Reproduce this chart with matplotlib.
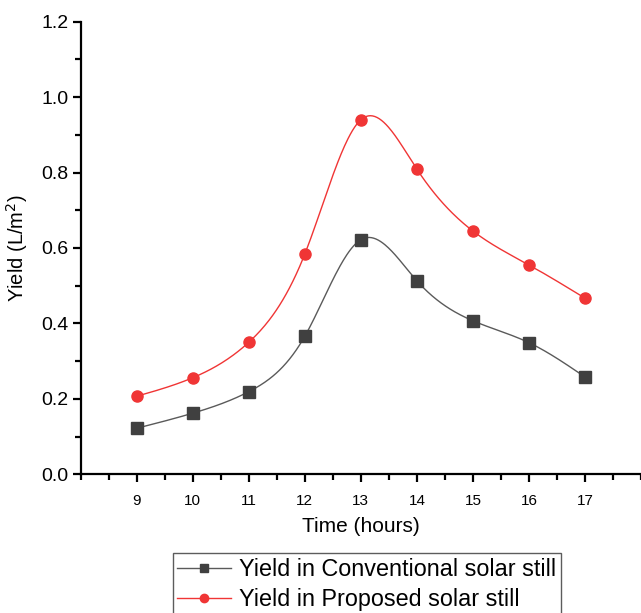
import matplotlib.pyplot as plt
import numpy as np
from matplotlib.ticker import MultipleLocator, FormatStrFormatter

plt.rcParams.update({"font.family": ["Liberation Sans", "DejaVu Sans"]})

# data
hours = [9, 10, 11, 12, 13, 14, 15, 16, 17]
conventional = [0.122, 0.162, 0.219, 0.366, 0.622, 0.513, 0.407, 0.349, 0.258]
proposed = [0.207, 0.256, 0.350, 0.584, 0.940, 0.809, 0.645, 0.555, 0.467]

GRAY_LINE = "#5a5a5a"
GRAY_MARK = "#404040"
RED = "#f03535"


def natural_spline(x, y, n=400):
    # natural cubic spline through the data points (Origin "Spline" connection)
    x = np.asarray(x, float)
    y = np.asarray(y, float)
    k = len(x)
    h = np.diff(x)
    A = np.zeros((k, k))
    r = np.zeros(k)
    A[0, 0] = A[-1, -1] = 1.0
    for i in range(1, k - 1):
        A[i, i - 1] = h[i - 1]
        A[i, i] = 2 * (h[i - 1] + h[i])
        A[i, i + 1] = h[i]
        r[i] = 6 * ((y[i + 1] - y[i]) / h[i] - (y[i] - y[i - 1]) / h[i - 1])
    m = np.linalg.solve(A, r)
    xs = np.linspace(x[0], x[-1], n)
    idx = np.clip(np.searchsorted(x, xs) - 1, 0, k - 2)
    x0, x1 = x[idx], x[idx + 1]
    hh = x1 - x0
    t0, t1 = x1 - xs, xs - x0
    ys = (m[idx] * t0**3 / (6 * hh) + m[idx + 1] * t1**3 / (6 * hh)
          + (y[idx] / hh - m[idx] * hh / 6) * t0
          + (y[idx + 1] / hh - m[idx + 1] * hh / 6) * t1)
    return xs, ys


fig = plt.figure(figsize=(6.41, 6.13), dpi=100)
ax = fig.add_axes([0.1259, 0.2263, 0.8741, 0.7383])

series = [
    (conventional, GRAY_LINE, GRAY_MARK, "s", "Yield in Conventional solar still"),
    (proposed, RED, RED, "o", "Yield in Proposed solar still"),
]
for vals, lc, mc, mk, label in series:
    xs, ys = natural_spline(hours, vals)
    ax.plot(xs, ys, color=lc, lw=1.0, zorder=2)
    ax.plot(hours, vals, ls="none", marker=mk, ms=8, color=mc, zorder=3)
    # legend proxy: line + marker
    ax.plot([], [], color=lc, lw=1.0, marker=mk, ms=6, mfc=mc, mec=mc, label=label)

ax.set_xlim(8, 18)
ax.set_ylim(0, 1.2)
ax.xaxis.set_major_locator(MultipleLocator(1))
ax.xaxis.set_minor_locator(MultipleLocator(0.5))
ax.yaxis.set_major_locator(MultipleLocator(0.2))
ax.yaxis.set_minor_locator(MultipleLocator(0.1))
ax.yaxis.set_major_formatter(FormatStrFormatter("%.1f"))
ax.set_xticks(hours)

for s in ("top", "right"):
    ax.spines[s].set_visible(False)
for s in ("left", "bottom"):
    ax.spines[s].set_linewidth(1.6)
ax.tick_params(which="major", direction="out", length=6, width=1.6)
ax.tick_params(which="minor", direction="out", length=4, width=1.6)
ax.tick_params(axis="y", labelsize=14, pad=3)
ax.tick_params(axis="x", labelsize=11, pad=8)

ax.set_xlabel("Time (hours)", fontsize=15, labelpad=7)
ax.set_ylabel("Yield (L/m$^2$)", fontsize=14.5, labelpad=8)

leg = fig.legend(loc="upper left", bbox_to_anchor=(0.2694, 0.0974),
                 fontsize=16.8, frameon=True, fancybox=False,
                 handlelength=2.3, handletextpad=0.35, labelspacing=0.3,
                 borderpad=0.2, borderaxespad=0)
leg.get_frame().set_edgecolor("#333333")
leg.get_frame().set_linewidth(1.0)

fig.savefig("out.png", dpi=100)
